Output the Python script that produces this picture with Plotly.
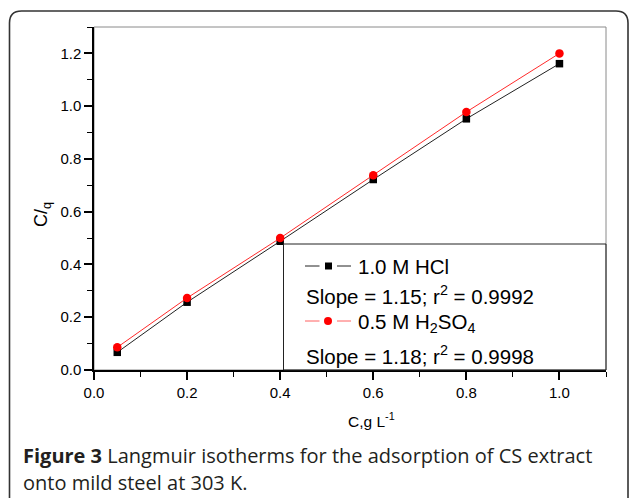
import plotly.graph_objects as go

# ---- data ----
conc = [0.05, 0.2, 0.4, 0.6, 0.8, 1.0]
hcl = [0.067, 0.257, 0.488, 0.722, 0.952, 1.161]
h2so4 = [0.086, 0.273, 0.500, 0.738, 0.978, 1.200]
name_hcl = "1.0 M HCl"
name_h2so4 = "0.5 M H<sub>2</sub>SO<sub>4</sub>"
fit_hcl = "Slope = 1.15; r<sup>2</sup> = 0.9992"
fit_h2so4 = "Slope = 1.18; r<sup>2</sup> = 0.9998"
x_title = "C,g L<sup>-1</sup>"
y_title = "C/<sub>q</sub>"
caption1 = "<b>Figure 3</b> Langmuir isotherms for the adsorption of CS extract"
caption2 = "onto mild steel at 303 K."

# ---- layout geometry (pixels) ----
WID, HGT = 629, 498
ML, MR, MT, MB = 94, 23, 27, 128
PW = WID - ML - MR
PH = HGT - MT - MB


def px(x):
    return (x - ML) / PW


def py(y):
    return (HGT - MB - y) / PH


FONT = "Liberation Sans, Arial, sans-serif"

fig = go.Figure()
fig.add_trace(go.Scatter(x=conc, y=hcl, mode="lines+markers", name=name_hcl,
                         line=dict(color="#222222", width=1),
                         marker=dict(symbol="square", size=7.5, color="black"),
                         showlegend=False, cliponaxis=False))
fig.add_trace(go.Scatter(x=conc, y=h2so4, mode="lines+markers", name=name_h2so4,
                         line=dict(color="#ff2a2a", width=1),
                         marker=dict(symbol="circle", size=8.5, color="#ff0000"),
                         showlegend=False, cliponaxis=False))

shapes = []
# card border with rounded top corners
R = 12
x0, x1, y0, y1 = 9.5, 628, 11, 530
path = (f"M {px(x0)},{py(y1)} L {px(x0)},{py(y0 + R)} "
        f"Q {px(x0)},{py(y0)} {px(x0 + R)},{py(y0)} "
        f"L {px(x1 - R)},{py(y0)} Q {px(x1)},{py(y0)} {px(x1)},{py(y0 + R)} "
        f"L {px(x1)},{py(y1)}")
shapes.append(dict(type="path", xref="paper", yref="paper", path=path,
                   line=dict(color="#333333", width=1.6)))
# gray frame (top/right)
shapes.append(dict(type="rect", xref="paper", yref="paper", x0=0, y0=0, x1=1, y1=1,
                   line=dict(color="#8a8a8a", width=1), layer="below"))
# legend box
shapes.append(dict(type="rect", xref="paper", yref="paper",
                   x0=px(283.5), x1=px(606), y0=py(370), y1=py(244),
                   line=dict(color="#222222", width=1)))
# legend symbols
for yy, col, sym in [(266, "#222222", "rect"), (321, "#ff6060", "circle")]:
    shapes.append(dict(type="line", xref="paper", yref="paper",
                       x0=px(305), x1=px(319.5), y0=py(yy), y1=py(yy),
                       line=dict(color=col, width=1)))
    shapes.append(dict(type="line", xref="paper", yref="paper",
                       x0=px(337), x1=px(351), y0=py(yy), y1=py(yy),
                       line=dict(color=col, width=1)))
    if sym == "rect":
        shapes.append(dict(type="rect", xref="paper", yref="paper",
                           x0=px(325), x1=px(332), y0=py(yy + 3.5), y1=py(yy - 3.5),
                           fillcolor="black", line=dict(width=0)))
    else:
        shapes.append(dict(type="circle", xref="paper", yref="paper",
                           x0=px(324), x1=px(332), y0=py(yy + 4), y1=py(yy - 4),
                           fillcolor="#ff0000", line=dict(width=0)))

annotations = []


def ann(text, x, y, size, xanchor="left", angle=0, family=FONT, color="black"):
    annotations.append(dict(text=text, x=px(x), y=py(y), xref="paper", yref="paper",
                            xanchor=xanchor, yanchor="middle", showarrow=False,
                            textangle=angle, font=dict(family=family, size=size, color=color)))


ann(name_hcl, 356, 266, 20.5)
ann(fit_hcl, 304, 295, 20.5)
ann(name_h2so4, 356, 323, 20.5)
ann(fit_h2so4, 304, 355, 20.5)
ann(x_title, 371, 420, 15.5, xanchor="center")
ann(y_title, 42, 215, 18, xanchor="center", angle=-90)
ann(caption1, 21, 455, 20, family="Open Sans, sans-serif", color="#231f20")
ann(caption2, 21, 482, 20, family="Open Sans, sans-serif", color="#231f20")

axis_common = dict(showgrid=False, zeroline=False, showline=True, linecolor="black",
                   linewidth=1.5, ticks="outside", ticklen=8, tickwidth=1.5,
                   tickcolor="black", tickformat=".1f", dtick=0.2, tick0=0,
                   tickfont=dict(family=FONT, size=15, color="black"),
                   minor=dict(ticks="outside", ticklen=5, tickwidth=1.2,
                              tickcolor="black", dtick=0.1, showgrid=False))

fig.update_layout(
    width=WID, height=HGT,
    margin=dict(l=ML, r=MR, t=MT, b=MB),
    paper_bgcolor="white", plot_bgcolor="white",
    xaxis=dict(range=[0, 1.1], **axis_common),
    yaxis=dict(range=[0, 1.3], **axis_common),
    shapes=shapes, annotations=annotations,
    showlegend=False,
)

fig.write_html("out.html")
